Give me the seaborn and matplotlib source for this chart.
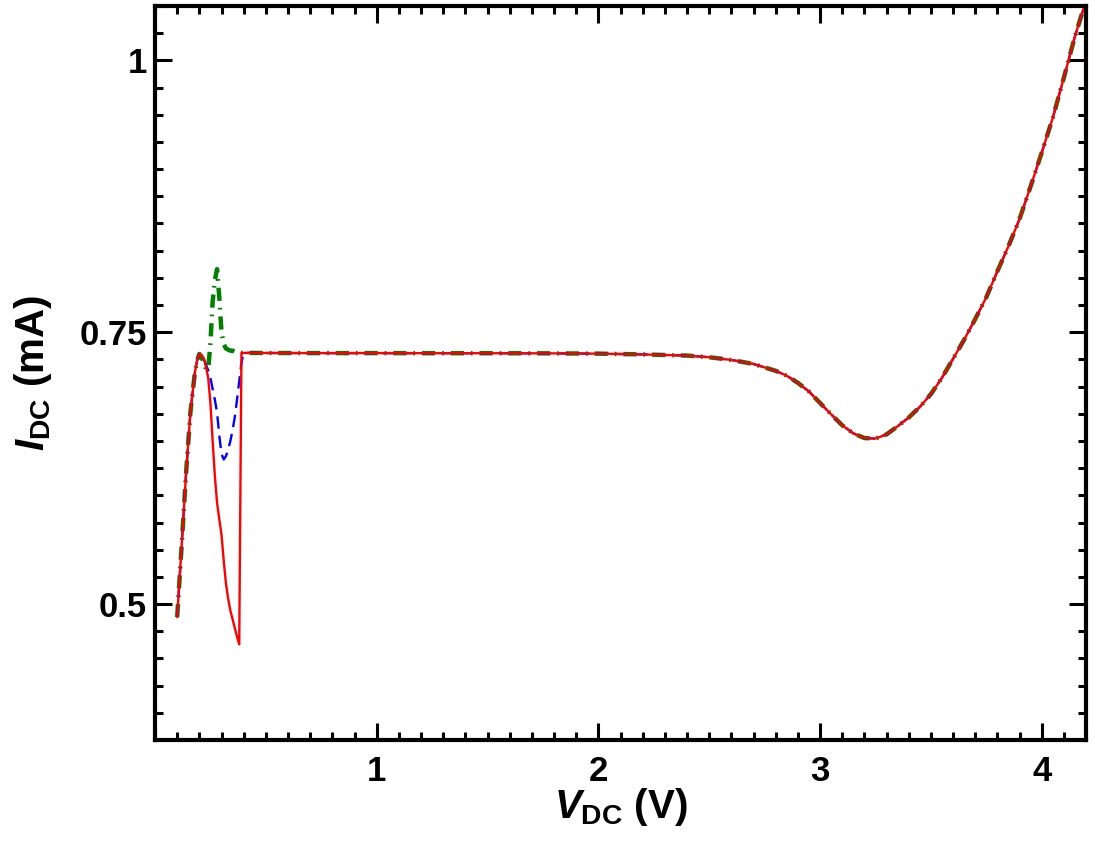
import matplotlib
matplotlib.use("Agg")
import matplotlib.pyplot as plt
from matplotlib.ticker import MultipleLocator, FixedLocator
import seaborn as sns
import pandas as pd

# ---------------- data ----------------
v_dc = [0.10, 0.12, 0.14, 0.16, 0.18, 0.19, 0.20, 0.21, 0.22, 0.23, 0.24,
        0.25, 0.26, 0.27, 0.28, 0.29, 0.30, 0.31, 0.32, 0.33, 0.34, 0.35,
        0.36, 0.37, 0.38, 0.39, 0.40, 0.50, 0.75, 1.00, 1.25, 1.50, 1.75,
        2.00, 2.20, 2.40, 2.50, 2.60, 2.70, 2.80, 2.85, 2.90, 2.95, 3.00,
        3.05, 3.10, 3.15, 3.20, 3.25, 3.30, 3.35, 3.40, 3.45, 3.50, 3.55,
        3.60, 3.65, 3.70, 3.75, 3.80, 3.85, 3.90, 3.95, 4.00, 4.05, 4.10,
        4.15, 4.20]

# common part of all curves (from V = 0.40 on)
tail = [0.7310, 0.7309, 0.7308, 0.7308, 0.7307, 0.7307, 0.7306,
        0.7303, 0.7296, 0.7285, 0.7270, 0.7245, 0.7208, 0.7145, 0.7100,
        0.7035, 0.6955, 0.6850, 0.6745, 0.6645, 0.6570, 0.6527, 0.6522,
        0.6560, 0.6635, 0.6715, 0.6812, 0.6930, 0.7080, 0.7255, 0.7430,
        0.7620, 0.7820, 0.8060, 0.8290, 0.8540, 0.8840, 0.9150, 0.9470,
        0.9840, 1.0220, 1.0550]

rise = [0.488, 0.553, 0.620, 0.677, 0.713, 0.724, 0.730]

i_dc_green = rise + [0.727, 0.722, 0.716, 0.716, 0.740, 0.778, 0.798, 0.808,
                     0.782, 0.750, 0.739, 0.735, 0.734, 0.733, 0.733, 0.732,
                     0.732, 0.731, 0.731] + tail
i_dc_blue = rise + [0.729, 0.726, 0.720, 0.715, 0.708, 0.698, 0.688, 0.676,
                    0.655, 0.638, 0.633, 0.636, 0.642, 0.650, 0.660, 0.672,
                    0.688, 0.705, 0.722] + tail
i_dc_red = rise + [0.729, 0.726, 0.718, 0.708, 0.685, 0.650, 0.618, 0.593,
                   0.578, 0.564, 0.540, 0.519, 0.505, 0.494, 0.486, 0.478,
                   0.470, 0.463, 0.731] + tail

x_ticks = [1, 2, 3, 4]
x_tick_labels = ["1", "2", "3", "4"]
y_ticks = [0.5, 0.75, 1.0]
y_tick_labels = ["0.5", "0.75", "1"]

# ---------------- style ----------------
sns.set_style("white")
plt.rcParams["font.family"] = ["Liberation Sans", "DejaVu Sans"]
plt.rcParams["font.weight"] = "bold"
plt.rcParams["text.color"] = "black"
plt.rcParams["axes.labelcolor"] = "black"
plt.rcParams["xtick.color"] = "black"
plt.rcParams["ytick.color"] = "black"
plt.rcParams["mathtext.fontset"] = "custom"
plt.rcParams["mathtext.rm"] = "Liberation Sans:bold"
plt.rcParams["mathtext.it"] = "Liberation Sans:italic:bold"
plt.rcParams["mathtext.bf"] = "Liberation Sans:bold"
plt.rcParams["lines.scale_dashes"] = False

fig = plt.figure(figsize=(10.94, 8.42), dpi=100)
ax = fig.add_axes([155 / 1094, 1 - 740 / 842, (1086 - 155) / 1094, (740 - 6) / 842])

df = pd.DataFrame({"V": v_dc, "green": i_dc_green, "blue": i_dc_blue, "red": i_dc_red})

sns.lineplot(data=df, x="V", y="green", ax=ax, color="#008000", linewidth=3.2,
             estimator=None, sort=False)
ax.lines[-1].set_linestyle((0, (9.5, 5.0, 1.2, 5.0)))
sns.lineplot(data=df, x="V", y="blue", ax=ax, color="#0000ff", linewidth=1.7,
             estimator=None, sort=False)
ax.lines[-1].set_linestyle((0, (9.0, 5.0)))
sns.lineplot(data=df, x="V", y="red", ax=ax, color="#ff0000", linewidth=1.7,
             estimator=None, sort=False)

ax.set_xlim(0.0, 4.2)
ax.set_ylim(0.375, 1.05)

ax.xaxis.set_major_locator(FixedLocator(x_ticks))
ax.set_xticklabels(x_tick_labels)
ax.xaxis.set_minor_locator(MultipleLocator(0.1))
ax.yaxis.set_major_locator(FixedLocator(y_ticks))
ax.set_yticklabels(y_tick_labels)
ax.yaxis.set_minor_locator(MultipleLocator(0.025))

for s in ax.spines.values():
    s.set_linewidth(3.0)
    s.set_color("black")

ax.tick_params(which="both", direction="in", bottom=True, left=True,
               top=True, right=True, color="black", labelcolor="black")
ax.tick_params(which="major", length=12, width=2.2, labelsize=25)
ax.tick_params(which="minor", length=6, width=2.2)
ax.tick_params(axis="x", which="major", pad=11)
ax.tick_params(axis="y", which="major", pad=6)
for lab in ax.get_xticklabels() + ax.get_yticklabels():
    lab.set_fontweight("bold")

ax.set_xlabel(r"$V_{\rm DC}$ (V)", fontsize=29, fontweight="bold", labelpad=-2,
              color="black")
ax.set_ylabel(r"$I_{\rm DC}$ (mA)", fontsize=29, fontweight="bold", labelpad=18,
              color="black")

fig.savefig("out.png", dpi=100)
